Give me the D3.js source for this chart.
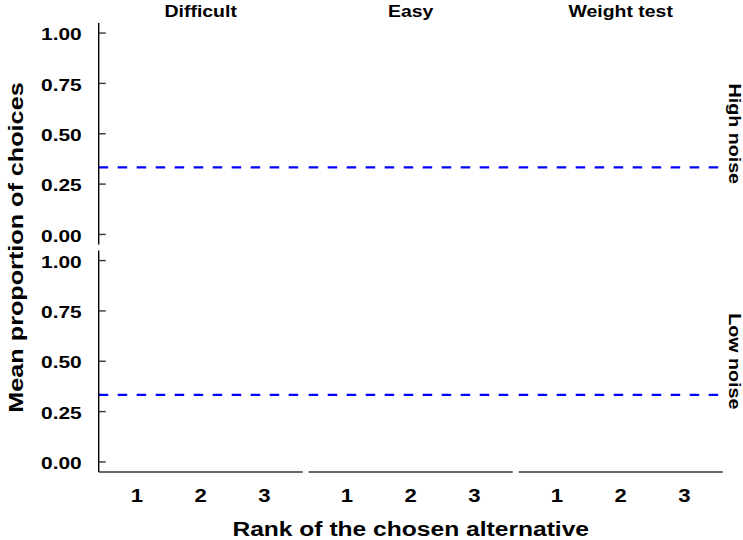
<!DOCTYPE html>
<html>
<head>
<meta charset="utf-8">
<script src="https://cdn.jsdelivr.net/npm/d3@7"></script>
<style>
  html, body { margin: 0; padding: 0; background: #fff; }
  svg { display: block; }
  text { font-family: "Liberation Sans", Arial, Helvetica, sans-serif; font-weight: bold; fill: #000; }
</style>
</head>
<body>
<svg id="chart" width="743" height="540"></svg>
<script>
// ---- data ----
const conditions = ["Difficult", "Easy", "Weight test"];
const noiseLevels = ["High noise", "Low noise"];
const ranks = [1, 2, 3];
const yTicks = [0, 0.25, 0.5, 0.75, 1];
const yTickLabels = ["0.00", "0.25", "0.50", "0.75", "1.00"];
const chanceLevel = [0.333];
const xTitle = "Rank of the chosen alternative";
const yTitle = "Mean proportion of choices";

// ---- layout ----
const plotLeft = 98.7, plotRight = 722.7, plotTop = 23, plotBottom = 472;
const gapX = 6, gapY = 6;
const stretch = 1.23;
const panelW = (plotRight - plotLeft - gapX * (conditions.length - 1)) / conditions.length;
const panelH = (plotBottom - plotTop - gapY * (noiseLevels.length - 1)) / noiseLevels.length;

const svg = d3.select("#chart");

const y = d3.scaleLinear().domain([-0.05, 1.05]).range([panelH, 0]);

noiseLevels.forEach((noise, r) => {
  const py = plotTop + r * (panelH + gapY);
  conditions.forEach((cond, c) => {
    const px = plotLeft + c * (panelW + gapX);
    const x = d3.scalePoint().domain(ranks).range([0, panelW]).padding(0.6);
    const g = svg.append("g").attr("transform", `translate(${px},${py})`);

    // chance reference line
    g.selectAll("line.ref").data(chanceLevel).enter().append("line")
      .attr("class", "ref")
      .attr("x1", 0).attr("x2", panelW)
      .attr("y1", d => y(d)).attr("y2", d => y(d))
      .attr("stroke", "#0000FF").attr("stroke-width", 2.2)
      .attr("stroke-dasharray", "9.5,9.5");

    // y axis on first column
    if (c === 0) {
      g.append("line").attr("x1", 0).attr("x2", 0).attr("y1", 0).attr("y2", panelH)
        .attr("stroke", "#000").attr("stroke-width", 1.4);
      g.selectAll("line.ytick").data(yTicks).enter().append("line")
        .attr("class", "ytick")
        .attr("x1", 0).attr("x2", 7)
        .attr("y1", d => y(d)).attr("y2", d => y(d))
        .attr("stroke", "#333").attr("stroke-width", 1.4);
      g.selectAll("text.ylab").data(yTicks).enter().append("text")
        .attr("class", "ylab")
        .attr("text-anchor", "end")
        .attr("font-size", 17)
        .attr("transform", d => `translate(${-17},${y(d) + 7.2}) scale(${stretch},1)`)
        .text((d, i) => yTickLabels[i]);
    }

    // x axis on bottom row
    if (r === noiseLevels.length - 1) {
      g.append("line").attr("x1", 0).attr("x2", panelW).attr("y1", panelH).attr("y2", panelH)
        .attr("stroke", "#333").attr("stroke-width", 1.4);
      g.selectAll("text.xlab").data(ranks).enter().append("text")
        .attr("class", "xlab")
        .attr("text-anchor", "middle")
        .attr("font-size", 18)
        .attr("transform", d => `translate(${x(d)},${502 - py}) scale(${stretch},1)`)
        .text(d => d);
    }

    // top strips
    if (r === 0) {
      svg.append("text")
        .attr("text-anchor", "middle")
        .attr("font-size", 15.8)
        .attr("transform", `translate(${px + panelW / 2},${17.3}) scale(${stretch},1)`)
        .text(cond);
    }
    // right strips
    if (c === conditions.length - 1) {
      svg.append("text")
        .attr("text-anchor", "middle")
        .attr("font-size", 16)
        .attr("transform", `translate(${728.5},${py + panelH / 2}) rotate(90) scale(${stretch},1)`)
        .text(noise);
    }
  });
});

// axis titles
svg.append("text")
  .attr("text-anchor", "middle")
  .attr("font-size", 20)
  .attr("transform", `translate(${(plotLeft + plotRight) / 2},${536}) scale(${stretch},1)`)
  .text(xTitle);

svg.append("text")
  .attr("text-anchor", "middle")
  .attr("font-size", 21)
  .attr("transform", `translate(${22.5},${(plotTop + plotBottom) / 2}) rotate(-90) scale(1.2,1)`)
  .text(yTitle);
</script>
</body>
</html>
